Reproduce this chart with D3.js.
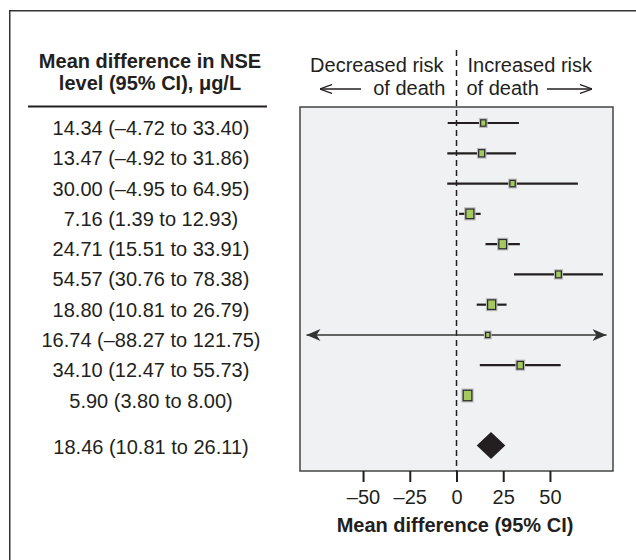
<!DOCTYPE html>
<html>
<head>
<meta charset="utf-8">
<script src="https://cdn.jsdelivr.net/npm/d3@7"></script>
<style>
  html, body { margin: 0; padding: 0; background: #fff; }
  svg { display: block; font-family: "Liberation Sans", Arial, Helvetica, sans-serif; }
</style>
</head>
<body>
<svg id="chart" width="636" height="560"></svg>
<script>
// ---- data ----
const estimates = [14.34, 13.47, 30.00, 7.16, 24.71, 54.57, 18.80, 16.74, 34.10, 5.90];
const lowerCI   = [-4.72, -4.92, -4.95, 1.39, 15.51, 30.76, 10.81, -88.27, 12.47, 3.80];
const upperCI   = [33.40, 31.86, 64.95, 12.93, 33.91, 78.38, 26.79, 121.75, 55.73, 8.00];
const weights   = [6.3, 8.1, 6.3, 14.4, 13.3, 7.3, 14.4, 4.2, 9.0, 17.0];
const pooled    = { est: 18.46, lo: 10.81, hi: 26.11 };
const xTicks    = [-50, -25, 0, 25, 50];
const headerLines = ["Mean difference in NSE", "level (95% CI), \u03bcg/L"];
const axisTitle = "Mean difference (95% CI)";
const leftLabel = ["Decreased risk", "of death"];
const rightLabel = ["Increased risk", "of death"];

// ---- setup ----
const svg = d3.select("#chart");
const panel = { x0: 300, x1: 613, y0: 107, y1: 471 };
const x = d3.scaleLinear().domain([-84, 84]).range([299.5, 613.5]);
const y = d3.scaleLinear().domain([0, 9]).range([123, 395.5]);
const pooledPos = 10.65;
const sizeScale = d3.scaleSqrt().domain([0, 17]).range([0, 8.7]);
const fmt = v => (v < 0 ? "\u2013" + Math.abs(v).toFixed(2) : v.toFixed(2));
const dark = "#231f20";

// arrow marker defs
const defs = svg.append("defs");
defs.append("marker").attr("id", "arrowEnd")
  .attr("viewBox", "0 -6 14 12").attr("refX", 14).attr("refY", 0)
  .attr("markerWidth", 14).attr("markerHeight", 12).attr("markerUnits", "userSpaceOnUse")
  .attr("orient", "auto")
  .append("path").attr("d", "M14,0 L0,-6 L4,0 L0,6 Z").attr("fill", "#333");
defs.append("marker").attr("id", "arrowStart")
  .attr("viewBox", "0 -6 14 12").attr("refX", 14).attr("refY", 0)
  .attr("markerWidth", 14).attr("markerHeight", 12).attr("markerUnits", "userSpaceOnUse")
  .attr("orient", "auto-start-reverse")
  .append("path").attr("d", "M14,0 L0,-6 L4,0 L0,6 Z").attr("fill", "#333");
defs.append("marker").attr("id", "lblArrow")
  .attr("viewBox", "0 -5 12 10").attr("refX", 12).attr("refY", 0)
  .attr("markerWidth", 12).attr("markerHeight", 10).attr("markerUnits", "userSpaceOnUse")
  .attr("orient", "auto-start-reverse")
  .append("path").attr("d", "M0,-4.5 L12,0 L0,4.5").attr("fill", "none").attr("stroke", dark).attr("stroke-width", 1.2);

// outer frame (extends beyond canvas on right/bottom)
svg.append("rect").attr("x", 9.75).attr("y", 10.75).attr("width", 700).attr("height", 700)
  .attr("fill", "none").attr("stroke", "#333").attr("stroke-width", 1.5);

// panel
svg.append("rect").attr("x", panel.x0).attr("y", panel.y0)
  .attr("width", panel.x1 - panel.x0).attr("height", panel.y1 - panel.y0)
  .attr("fill", "#f0f1f3").attr("stroke", "#444").attr("stroke-width", 1.5);

// header
svg.append("g").selectAll("text").data(headerLines).join("text")
  .attr("x", 150).attr("y", (d, i) => 68 + i * 22)
  .attr("text-anchor", "middle").attr("font-size", 20).attr("font-weight", "bold")
  .attr("fill", dark).text(d => d);
svg.append("line").attr("x1", 28).attr("x2", 267).attr("y1", 106.5).attr("y2", 106.5)
  .attr("stroke", dark).attr("stroke-width", 2);

// row labels
const rows = estimates.map((e, i) => ({ est: e, lo: lowerCI[i], hi: upperCI[i], w: weights[i], i }));
svg.append("g").selectAll("text").data(rows).join("text")
  .attr("x", 151).attr("y", d => y(d.i) + 12)
  .attr("text-anchor", "middle").attr("font-size", 20).attr("fill", dark)
  .text(d => `${fmt(d.est)} (${fmt(d.lo)} to ${fmt(d.hi)})`);
svg.append("text").attr("x", 151).attr("y", y(pooledPos) + 9)
  .attr("text-anchor", "middle").attr("font-size", 20).attr("fill", dark)
  .text(`${fmt(pooled.est)} (${fmt(pooled.lo)} to ${fmt(pooled.hi)})`);

// direction labels
const zx = x(0);
svg.append("text").attr("x", zx - 13).attr("y", 72).attr("text-anchor", "end")
  .attr("font-size", 20).attr("fill", dark).text(leftLabel[0]);
svg.append("text").attr("x", zx - 11).attr("y", 95).attr("text-anchor", "end")
  .attr("font-size", 20).attr("fill", dark).text(leftLabel[1]);
svg.append("text").attr("x", zx + 11).attr("y", 72).attr("text-anchor", "start")
  .attr("font-size", 20).attr("fill", dark).text(rightLabel[0]);
svg.append("text").attr("x", zx + 10).attr("y", 95).attr("text-anchor", "start")
  .attr("font-size", 20).attr("fill", dark).text(rightLabel[1]);
svg.append("line").attr("x1", 361).attr("x2", 320).attr("y1", 89).attr("y2", 89)
  .attr("stroke", dark).attr("stroke-width", 1.3).attr("marker-end", "url(#lblArrow)");
svg.append("line").attr("x1", 547).attr("x2", 592).attr("y1", 89).attr("y2", 89)
  .attr("stroke", dark).attr("stroke-width", 1.3).attr("marker-end", "url(#lblArrow)");

// zero dashed line
svg.append("line").attr("x1", zx).attr("x2", zx).attr("y1", 50).attr("y2", panel.y1)
  .attr("stroke", dark).attr("stroke-width", 1.5).attr("stroke-dasharray", "6,4");

// CI lines
const clampL = x.range()[0] + 7, clampR = x.range()[1] - 7;
const g = svg.append("g");
rows.forEach(d => {
  const truncated = x(d.lo) < clampL || x(d.hi) > clampR;
  const l = g.append("line")
    .attr("x1", Math.max(x(d.lo), clampL)).attr("x2", Math.min(x(d.hi), clampR))
    .attr("y1", y(d.i)).attr("y2", y(d.i));
  if (truncated) {
    l.attr("stroke", "#333").attr("stroke-width", 1.5)
     .attr("marker-start", "url(#arrowStart)").attr("marker-end", "url(#arrowEnd)");
  } else {
    l.attr("stroke", dark).attr("stroke-width", 2.2);
  }
});

// squares
g.selectAll("rect.halo").data(rows).join("rect").attr("class", "halo")
  .attr("x", d => x(d.est) - sizeScale(d.w) / 2 - 1)
  .attr("y", d => y(d.i) - sizeScale(d.w) * 0.6 - 1)
  .attr("width", d => sizeScale(d.w) + 2).attr("height", d => sizeScale(d.w) * 1.2 + 2)
  .attr("fill", "none").attr("stroke", "#b8b8b8").attr("stroke-width", 1.5);
g.selectAll("rect.box").data(rows).join("rect").attr("class", "box")
  .attr("x", d => x(d.est) - sizeScale(d.w) / 2)
  .attr("y", d => y(d.i) - sizeScale(d.w) * 0.6)
  .attr("width", d => sizeScale(d.w)).attr("height", d => sizeScale(d.w) * 1.2)
  .attr("fill", "#a5c95f").attr("stroke", "#2a2a2a").attr("stroke-width", 1.2);

// pooled diamond
const yc = y(pooledPos);
g.append("path")
  .attr("d", `M${x(pooled.lo)},${yc} L${x(pooled.est)},${yc - 13.5} L${x(pooled.hi)},${yc} L${x(pooled.est)},${yc + 13.5} Z`)
  .attr("fill", dark);

// x axis
const axis = d3.axisBottom(x).tickValues(xTicks).tickSize(11).tickPadding(8)
  .tickFormat(d => d < 0 ? "\u2013" + Math.abs(d) : String(d));
const ax = svg.append("g").attr("transform", `translate(0,${panel.y1})`).call(axis);
ax.select(".domain").remove();
ax.selectAll(".tick line").attr("stroke", dark).attr("stroke-width", 2);
ax.selectAll(".tick text").attr("font-size", 20).attr("fill", dark)
  .attr("font-family", "'Liberation Sans', Arial, sans-serif");

svg.append("text").attr("x", 455).attr("y", 532).attr("text-anchor", "middle")
  .attr("font-size", 20).attr("font-weight", "bold").attr("fill", dark).text(axisTitle);
</script>
</body>
</html>
